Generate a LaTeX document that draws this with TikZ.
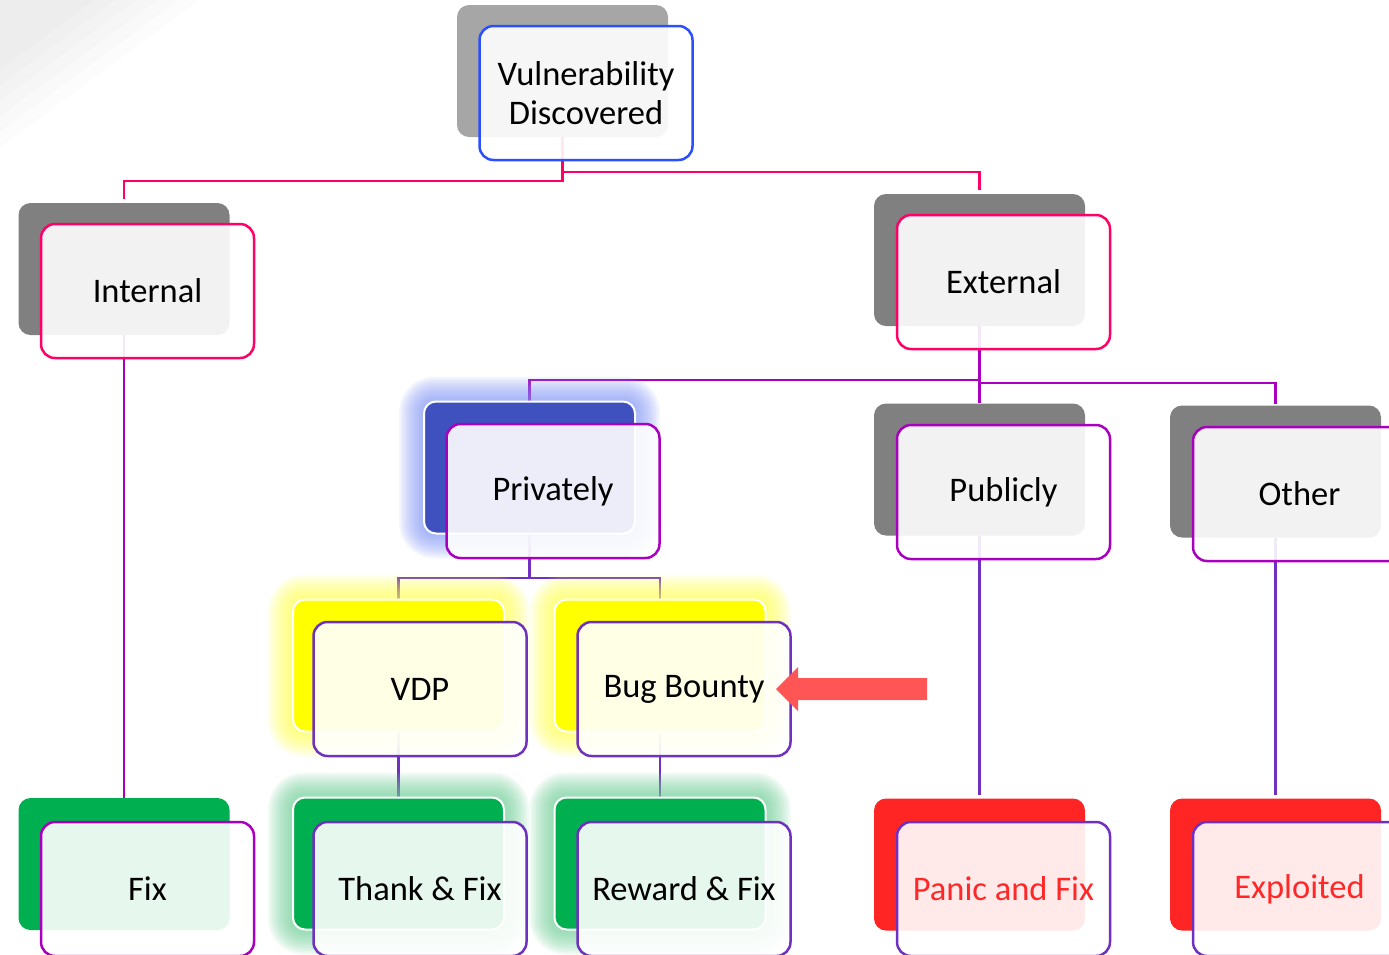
\documentclass[tikz,border=0pt]{standalone}
\usepackage{fontspec}
\setmainfont{Carlito}
\usetikzlibrary{calc}
\pgfdeclarelayer{lines}
\pgfdeclarelayer{glow}
\pgfsetlayers{lines,glow,main}
\definecolor{grayA}{RGB}{166,166,166}
\definecolor{grayB}{RGB}{128,128,128}
\definecolor{blueback}{RGB}{63,81,191}
\definecolor{yellowback}{RGB}{255,255,0}
\definecolor{greenback}{RGB}{0,176,80}
\definecolor{redback}{RGB}{255,37,37}
\definecolor{pinkc}{RGB}{255,0,102}
\definecolor{bluec}{RGB}{43,78,255}
\definecolor{purplec}{RGB}{168,0,190}
\definecolor{violetc}{RGB}{112,48,192}
\definecolor{redtext}{RGB}{255,40,40}
\definecolor{arrowred}{RGB}{255,85,85}
\definecolor{glowblue}{RGB}{130,150,245}
\definecolor{glowyellow}{RGB}{255,255,80}
\definecolor{glowgreen}{RGB}{110,205,150}
\tikzset{
  backbox/.style={rounded corners=12pt, minimum width=211pt, minimum height=132pt, inner sep=0pt},
  glowedge/.style={draw=white, line width=2pt},
  frontbox/.style={rounded corners=14pt, minimum width=213pt, minimum height=134pt, inner sep=0pt,
    line width=2.5pt, fill=white, fill opacity=0.9, text opacity=1, draw opacity=1, align=center,
    font=\fontsize{34.5}{39}\selectfont},
  conn/.style={line width=2.5pt},
}
\newcommand{\glowaround}[2]{%
  \foreach \d in {2,4,...,24}{%
    \fill[#2, opacity=0.09, rounded corners=12+\d]
      ([shift={(-\d,\d)}]#1.south west) rectangle ([shift={(\d,-\d)}]#1.north east);
  }%
}
\begin{document}
\begin{tikzpicture}[x=1pt,y=-1pt]
\useasboundingbox (0,0) rectangle (1389,954);
\foreach \s in {0.45,0.55,...,1.0}{%
  \fill[black, opacity=0.012] (0,0) -- (210*\s,0) -- (0,155*\s) -- cycle;
}

% back boxes
\node[backbox, fill=grayA] (vulB) at (562.5,71) {};
\node[backbox, fill=grayB] (intB) at (124,269) {};
\node[backbox, fill=grayB] (extB) at (979.5,260) {};
\node[backbox, fill=blueback, glowedge] (priB) at (529.5,467.5) {};
\node[backbox, fill=grayB] (pubB) at (979.5,469.5) {};
\node[backbox, fill=grayB] (othB) at (1275.5,471.5) {};
\node[backbox, fill=yellowback, glowedge] (vdpB) at (398.5,665.5) {};
\node[backbox, fill=yellowback, glowedge] (bugB) at (660,665.5) {};
\node[backbox, fill=greenback] (fixB) at (124,864) {};
\node[backbox, fill=greenback, glowedge] (thxB) at (398.5,863.5) {};
\node[backbox, fill=greenback, glowedge] (rewB) at (660,863.5) {};
\node[backbox, fill=redback] (panB) at (979.5,864.5) {};
\node[backbox, fill=redback] (expB) at (1275.5,864.5) {};

% front boxes
\node[frontbox, draw=bluec] (vul) at (586,93) {Vulnerability\\Discovered};
\node[frontbox, draw=pinkc] (int) at (147.5,291) {Internal};
\node[frontbox, draw=pinkc] (ext) at (1003.5,282) {External};
\node[frontbox, draw=purplec] (pri) at (553,491) {Privately};
\node[frontbox, draw=purplec] (pub) at (1003.5,492) {Publicly};
\node[frontbox, draw=purplec] (oth) at (1299.5,494) {Other};
\node[frontbox, draw=violetc] (vdp) at (420,689) {VDP};
\node[frontbox, draw=violetc] (bug) at (684,689) {Bug Bounty};
\node[frontbox, draw=purplec] (fix) at (147.5,889) {Fix};
\node[frontbox, draw=violetc] (thx) at (420,889) {Thank \& Fix};
\node[frontbox, draw=violetc] (rew) at (684,889) {Reward \& Fix};
\node[frontbox, draw=violetc, text=redtext] (pan) at (1003.5,889) {Panic and Fix};
\node[frontbox, draw=violetc, text=redtext] (exp) at (1299.5,889) {Exploited};

% pointer arrow
\fill[arrowred] (927,678) -- (798,678) -- (798,667) -- (776,689) -- (798,711) -- (798,700) -- (927,700) -- cycle;

% glows
\begin{pgfonlayer}{glow}
  \glowaround{priB}{glowblue}
  \glowaround{vdpB}{glowyellow}
  \glowaround{bugB}{glowyellow}
  \glowaround{thxB}{glowgreen}
  \glowaround{rewB}{glowgreen}
\end{pgfonlayer}

% connectors
\begin{pgfonlayer}{lines}
  \coordinate (jvl) at (562.5,181);
  \coordinate (jvr) at (562.5,172);
  \draw[conn, pinkc, shorten >=4pt] (vulB.south) -- (jvl) -| (intB.north);
  \draw[conn, pinkc, shorten >=4pt] (jvr) -| (extB.north);
  \draw[conn, purplec] (intB.south) -- (fixB.north);
  \coordinate (jel) at (979.5,380);
  \coordinate (jer) at (979.5,383);
  \draw[conn, purplec] (extB.south) -- (pubB.north);
  \draw[conn, purplec] (jel) -| (priB.north);
  \draw[conn, purplec, shorten >=1pt] (jer) -| (othB.north);
  \coordinate (jp) at (529.5,578);
  \draw[conn, violetc] (priB.south) -- (jp) -| (vdpB.north);
  \draw[conn, violetc] (jp) -| (bugB.north);
  \draw[conn, violetc] (vdpB.south) -- (thxB.north);
  \draw[conn, violetc] (bugB.south) -- (rewB.north);
  \draw[conn, violetc, shorten >=3pt] (pubB.south) -- (panB.north);
  \draw[conn, violetc, shorten >=3pt] (othB.south) -- (expB.north);
\end{pgfonlayer}
\end{tikzpicture}
\end{document}
